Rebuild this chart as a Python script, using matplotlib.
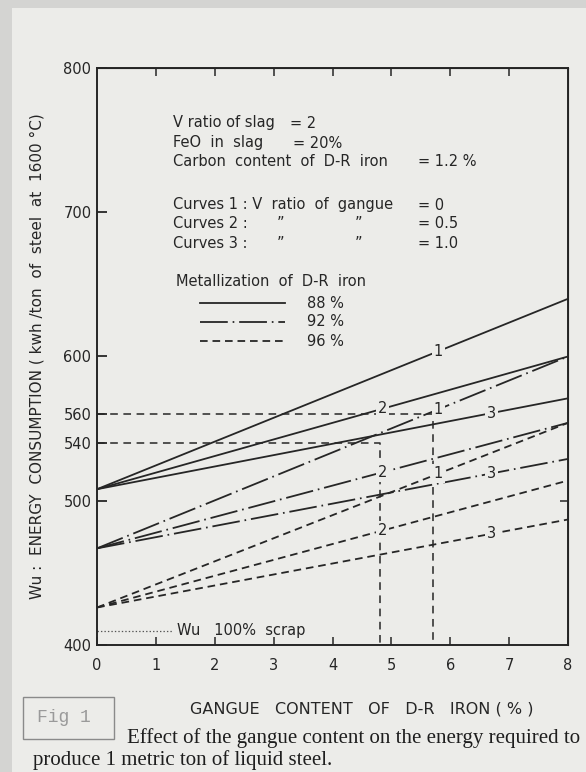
import matplotlib
matplotlib.use("Agg")
import matplotlib.pyplot as plt
from matplotlib.patches import Rectangle
import numpy as np

# ---- data ----
gangue = [0, 8]                      # gangue content of D-R iron (%)
# energy (kwh/t) at gangue 0 and 8, curves 1, 2, 3
e88 = [[508, 640], [508, 600], [508, 571]]   # 88 % metallization
e92 = [[467, 600], [467, 554], [467, 529]]   # 92 %
e96 = [[426, 554], [426, 514], [426, 487]]   # 96 %
curve_names = ["1", "2", "3"]
label_x = [5.8, 4.85, 6.7]
metal_labels = ["88 %", "92 %", "96 %"]
scrap_wu = 410
scrap_x = [0, 1.28]
guide_x = [5.7, 4.8]
guide_y = [560, 540]
yticks = [400, 500, 540, 560, 600, 700, 800]
xticks = [0, 1, 2, 3, 4, 5, 6, 7, 8]

W, H = 586, 772
BG = "#ecece9"
INK = "#262626"
SANS = "DejaVu Sans"

plt.rcParams["lines.scale_dashes"] = False


def fx(px):
    return px / W


def fy(py):
    return 1 - py / H


fig = plt.figure(figsize=(W / 100, H / 100), dpi=100, facecolor="#d4d4d2")
fig.patches.append(Rectangle((fx(12), 0), 1 - fx(12), fy(8), transform=fig.transFigure,
                             facecolor=BG, edgecolor="none", zorder=-10))

ax = fig.add_axes([fx(97), fy(645), fx(568) - fx(97), fy(68) - fy(645)])
ax.set_zorder(2)
ax.set_facecolor(BG)
ax.set_xlim(0, 8)
ax.set_ylim(400, 800)

styles = ["-", (0, (20, 3.5, 1.2, 3.5)), (0, (5.5, 3.5))]
groups = [e88, e92, e96]
for grp, ls in zip(groups, styles):
    for vals, name, lx in zip(grp, curve_names, label_x):
        ax.plot(gangue, vals, color=INK, lw=1.3, linestyle=ls, zorder=2)
        ly = np.interp(lx, gangue, vals)
        ax.text(lx, ly, name, ha="center", va="center", fontsize=10.5, color=INK,
                family=SANS, zorder=4,
                bbox=dict(boxstyle="square,pad=0.15", facecolor=BG, edgecolor="none"))

# guide lines at 560 / 540
for gx, gy in zip(guide_x, guide_y):
    ax.plot([0, gx, gx], [gy, gy, 400], color=INK, lw=1.1,
            linestyle=(0, (5.5, 4)), zorder=1)

# 100 % scrap level
ax.plot(scrap_x, [scrap_wu, scrap_wu], color="#555555", lw=0.9, linestyle=(0, (1, 1.5)))
ax.text(scrap_x[1] + 0.08, scrap_wu, "Wu   100%  scrap", va="center", ha="left",
        fontsize=10.5, color=INK, family=SANS)

# axes styling
for s in ax.spines.values():
    s.set_linewidth(1.4)
    s.set_color(INK)
ax.set_yticks(yticks)
ax.set_yticklabels([str(v) for v in yticks])
ax.set_xticks(xticks)
ax.set_xticklabels([str(v) for v in xticks])
ax.tick_params(axis="y", direction="in", length=7, width=1.3, pad=4,
               labelsize=10.5, colors=INK)
ax.tick_params(axis="x", direction="in", length=6, width=1.1, pad=9,
               labelsize=10.5, colors=INK)
for lab in ax.get_xticklabels() + ax.get_yticklabels():
    lab.set_family(SANS)
top = ax.secondary_xaxis("top")
top.set_xticks(xticks[1:-1])
top.tick_params(direction="in", length=6, width=1.1, labeltop=False, colors=INK)
right = ax.secondary_yaxis("right")
right.set_yticks([500])
right.tick_params(direction="in", length=6, width=1.1, labelright=False, colors=INK)

# notes inside the plot
notes = [
    (173, 123, "V ratio of slag"), (290, 123, "= 2"),
    (173, 143, "FeO  in  slag"), (293, 143, "= 20%"),
    (173, 162, "Carbon  content  of  D-R  iron"), (418, 162, "= 1.2 %"),
    (173, 205, "Curves 1 : V  ratio  of  gangue"), (418, 205, "= 0"),
    (173, 224, "Curves 2 :"), (277, 224, "\u201d"), (355, 224, "\u201d"), (418, 224, "= 0.5"),
    (173, 243, "Curves 3 :"), (277, 243, "\u201d"), (355, 243, "\u201d"), (418, 243, "= 1.0"),
    (176, 282, "Metallization  of  D-R  iron"),
]
for px, py, t in notes:
    fig.text(fx(px), fy(py), t, ha="left", va="center", fontsize=10.5, color=INK,
             family=SANS, zorder=5)

# metallization key
key_y = [303, 322, 341]
for ls, ky, lab in zip(styles, key_y, metal_labels):
    fig.add_artist(plt.Line2D([fx(200), fx(285)], [fy(ky), fy(ky)], color=INK, lw=1.3,
                              linestyle=ls, transform=fig.transFigure, zorder=5))
    fig.text(fx(307), fy(ky), lab, ha="left", va="center", fontsize=10.5, color=INK,
             family=SANS, zorder=5)

# axis labels
fig.text(fx(37), fy(356), "Wu :  ENERGY  CONSUMPTION ( kwh /ton  of  steel  at  1600 \u00b0C)",
         rotation=90, ha="center", va="center", fontsize=11, color=INK, family=SANS)
fig.text(fx(362), fy(709), "GANGUE   CONTENT   OF   D-R   IRON ( % )",
         ha="center", va="center", fontsize=11.5, color=INK, family=SANS)

# caption
fig.patches.append(Rectangle((fx(23), fy(739)), fx(114) - fx(23), fy(697) - fy(739),
                             transform=fig.transFigure, facecolor="none",
                             edgecolor="#8a8a8a", lw=1.0))
fig.text(fx(37), fy(717), "Fig 1", ha="left", va="center", fontsize=13,
         color="#9a9a9a", family="Liberation Mono")
fig.text(fx(127), fy(738), "Effect of the gangue content on the energy required to",
         ha="left", va="center", fontsize=15, color="#1e1e1e", family="Liberation Serif")
fig.text(fx(33), fy(760), "produce 1 metric ton of liquid steel.",
         ha="left", va="center", fontsize=15, color="#1e1e1e", family="Liberation Serif")

fig.savefig("out.png", dpi=100, facecolor=fig.get_facecolor())
